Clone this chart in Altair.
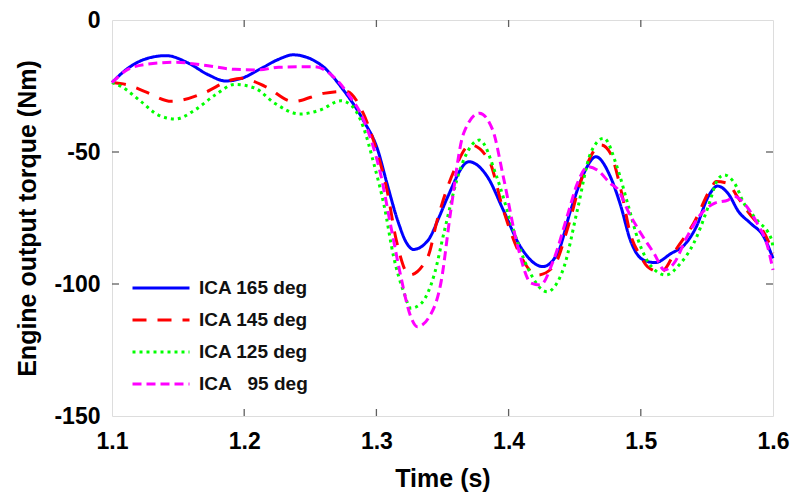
import numpy as np
import pandas as pd
import altair as alt

# time (s) and torque (Nm) per ICA case
names = ["ICA 165 deg", "ICA 145 deg", "ICA 125 deg", "ICA\u00a0\u00a0\u00a095 deg"]
colors = ["#0000ff", "#ff0000", "#00ff00", "#ff00ff"]
dashes = [[1, 0], [14, 11], [3, 4], [9, 5]]

t165 = [1.100, 1.112, 1.127, 1.141, 1.158, 1.173, 1.186, 1.198, 1.213, 1.226,
        1.237, 1.258, 1.275, 1.290, 1.301, 1.308, 1.316, 1.323, 1.328, 1.339,
        1.348, 1.354, 1.370, 1.384, 1.396, 1.409, 1.426, 1.437, 1.447, 1.457,
        1.466, 1.477, 1.485, 1.492, 1.502, 1.511, 1.523, 1.533, 1.542, 1.551,
        1.558, 1.566, 1.574, 1.583, 1.593, 1.600]
v165 = [-23.7, -18.3, -14.5, -13.5, -16.4, -20.8, -23.1, -22.1, -18.3, -14.9,
        -13.2, -17.0, -26.5, -37.9, -49.2, -61.9, -75.8, -84.6, -86.9, -83.5,
        -74.0, -66.9, -53.7, -59.4, -72.0, -85.9, -93.4, -88.4, -72.0, -58.0,
        -51.8, -59.4, -70.7, -83.3, -90.9, -91.9, -88.4, -85.2, -78.3, -66.9,
        -62.9, -65.7, -72.6, -77.0, -82.1, -90.3]

t145 = [1.100, 1.112, 1.125, 1.145, 1.170, 1.190, 1.198, 1.216, 1.237, 1.260,
        1.277, 1.290, 1.300, 1.308, 1.315, 1.325, 1.339, 1.346, 1.359, 1.371,
        1.385, 1.396, 1.407, 1.422, 1.434, 1.445, 1.455, 1.470, 1.477, 1.485,
        1.492, 1.500, 1.505, 1.515, 1.528, 1.540, 1.553, 1.557, 1.566, 1.573,
        1.581, 1.596, 1.600]
v145 = [-23.7, -24.6, -27.1, -30.8, -27.5, -22.7, -22.1, -25.2, -30.9, -27.8,
        -27.0, -35.3, -49.2, -64.4, -83.3, -96.6, -89.6, -75.8, -56.8, -47.3,
        -53.0, -72.0, -87.1, -96.6, -93.4, -78.3, -60.6, -47.3, -50.5, -64.4,
        -80.8, -89.6, -93.4, -95.5, -85.9, -77.0, -63.8, -61.2, -61.9, -66.9,
        -72.6, -83.3, -88.4]

t125 = [1.100, 1.107, 1.122, 1.135, 1.148, 1.163, 1.178, 1.193, 1.208, 1.223,
        1.242, 1.258, 1.273, 1.282, 1.290, 1.298, 1.306, 1.313, 1.321, 1.326,
        1.334, 1.344, 1.351, 1.364, 1.378, 1.391, 1.402, 1.414, 1.429, 1.442,
        1.452, 1.462, 1.472, 1.482, 1.490, 1.498, 1.508, 1.519, 1.530, 1.540,
        1.551, 1.558, 1.563, 1.571, 1.578, 1.588, 1.599, 1.600]
v125 = [-23.7, -25.2, -30.9, -36.0, -37.5, -34.0, -28.4, -24.4, -25.8, -31.5,
        -35.6, -34.0, -30.6, -32.8, -40.4, -54.3, -70.7, -89.6, -103.5, -109.2,
        -107.3, -96.0, -80.8, -55.6, -45.5, -59.4, -77.0, -93.4, -102.9, -93.4,
        -72.0, -50.5, -44.8, -55.6, -69.4, -83.3, -93.4, -96.6, -92.2, -84.6,
        -70.7, -60.6, -58.7, -61.9, -69.4, -75.8, -83.3, -86.5]

t95 = [1.100, 1.112, 1.127, 1.148, 1.168, 1.193, 1.211, 1.226, 1.253, 1.270,
       1.280, 1.288, 1.296, 1.303, 1.311, 1.318, 1.326, 1.331, 1.340, 1.349,
       1.356, 1.366, 1.378, 1.388, 1.396, 1.407, 1.417, 1.424, 1.434, 1.445,
       1.452, 1.460, 1.467, 1.477, 1.483, 1.490, 1.500, 1.510, 1.518, 1.525,
       1.535, 1.546, 1.556, 1.566, 1.571, 1.578, 1.588, 1.596, 1.600]
v95 = [-23.7, -18.7, -16.7, -16.0, -17.0, -18.7, -18.9, -17.9, -17.7, -22.7,
       -29.0, -35.3, -45.5, -58.0, -78.3, -96.0, -112.4, -116.2, -112.4, -99.0,
       -73.2, -42.9, -35.3, -41.7, -59.4, -85.9, -99.7, -100.4, -90.9, -73.2,
       -61.9, -55.6, -56.8, -61.9, -64.4, -72.0, -80.8, -88.4, -94.7, -92.2,
       -82.1, -73.2, -69.4, -68.2, -66.9, -69.4, -77.0, -85.9, -94.7]

x_ticks = [1.1, 1.2, 1.3, 1.4, 1.5, 1.6]
y_ticks = [-150, -100, -50, 0]

frames = []
for name, t, v in zip(names, [t165, t145, t125, t95], [v165, v145, v125, v95]):
    frames.append(pd.DataFrame({"time": t, "torque": v, "case": name}))
dat = pd.concat(frames, ignore_index=True)

W, H = 661, 396
frame_col = "#606060"

xscale = alt.Scale(domain=[1.1, 1.6], nice=False, zero=False)
yscale = alt.Scale(domain=[-150, 0], nice=False, zero=False)

legend = alt.Legend(
    title=None, orient="none", legendX=19, legendY=252,
    symbolType="stroke", symbolSize=3249, symbolStrokeWidth=3,
    labelFont="Liberation Sans", labelFontSize=19, labelFontWeight="bold",
    labelColor="#111", labelOffset=8, rowPadding=0, clipHeight=32, padding=0,
)

lines = (
    alt.Chart(dat)
    .mark_line(interpolate="monotone", strokeWidth=3, strokeCap="butt")
    .encode(
        x=alt.X("time:Q", scale=xscale,
                axis=alt.Axis(values=x_ticks, format=".1f", title="Time (s)",
                              ticks=False, domain=False, grid=False,
                              labelFlush=False, labelPadding=14,
                              labelFontSize=23, labelFontWeight="bold",
                              titleFontSize=25, titleFontWeight="bold",
                              titleY=62, titleBaseline="middle")),
        y=alt.Y("torque:Q", scale=yscale,
                axis=alt.Axis(values=y_ticks,
                              labelExpr="datum.value < 0 ? '-' + abs(datum.value) : '' + datum.value",
                              title="Engine output torque (Nm)",
                              ticks=False, domain=False, grid=False,
                              labelFlush=False, labelPadding=12,
                              labelFontSize=23, labelFontWeight="bold",
                              titleFontSize=25, titleFontWeight="bold",
                              titleX=-85, titleBaseline="middle")),
        color=alt.Color("case:N", scale=alt.Scale(domain=names, range=colors),
                        sort=names, legend=legend),
        strokeDash=alt.StrokeDash("case:N", scale=alt.Scale(domain=names, range=dashes),
                                  sort=names, legend=legend),
    )
)

# inward ticks on all four sides (box style)
xt = pd.DataFrame({"time": x_ticks[1:-1]})
yt = pd.DataFrame({"torque": y_ticks[1:-1]})
tick_style = dict(color=frame_col, strokeWidth=1.3)
xt_bot = alt.Chart(xt).mark_rule(**tick_style).encode(
    x=alt.X("time:Q", scale=xscale), y=alt.value(H), y2=alt.value(H - 7))
xt_top = alt.Chart(xt).mark_rule(**tick_style).encode(
    x=alt.X("time:Q", scale=xscale), y=alt.value(0), y2=alt.value(7))
yt_left = alt.Chart(yt).mark_rule(**tick_style).encode(
    y=alt.Y("torque:Q", scale=yscale), x=alt.value(0), x2=alt.value(7))
yt_right = alt.Chart(yt).mark_rule(**tick_style).encode(
    y=alt.Y("torque:Q", scale=yscale), x=alt.value(W), x2=alt.value(W - 7))

chart = (
    alt.layer(lines, xt_bot, xt_top, yt_left, yt_right)
    .properties(width=W, height=H, autosize=alt.AutoSizeParams(type="none"),
                padding={"left": 104, "top": 12, "right": 24, "bottom": 80})
    .configure_view(stroke=frame_col, strokeWidth=1.5)
    .configure_axis(labelFont="Liberation Sans", titleFont="Liberation Sans",
                    labelColor="#111", titleColor="#111")
    .configure(background="white")
)

chart.save("out.html", embed_options={"renderer": "svg", "actions": False})
